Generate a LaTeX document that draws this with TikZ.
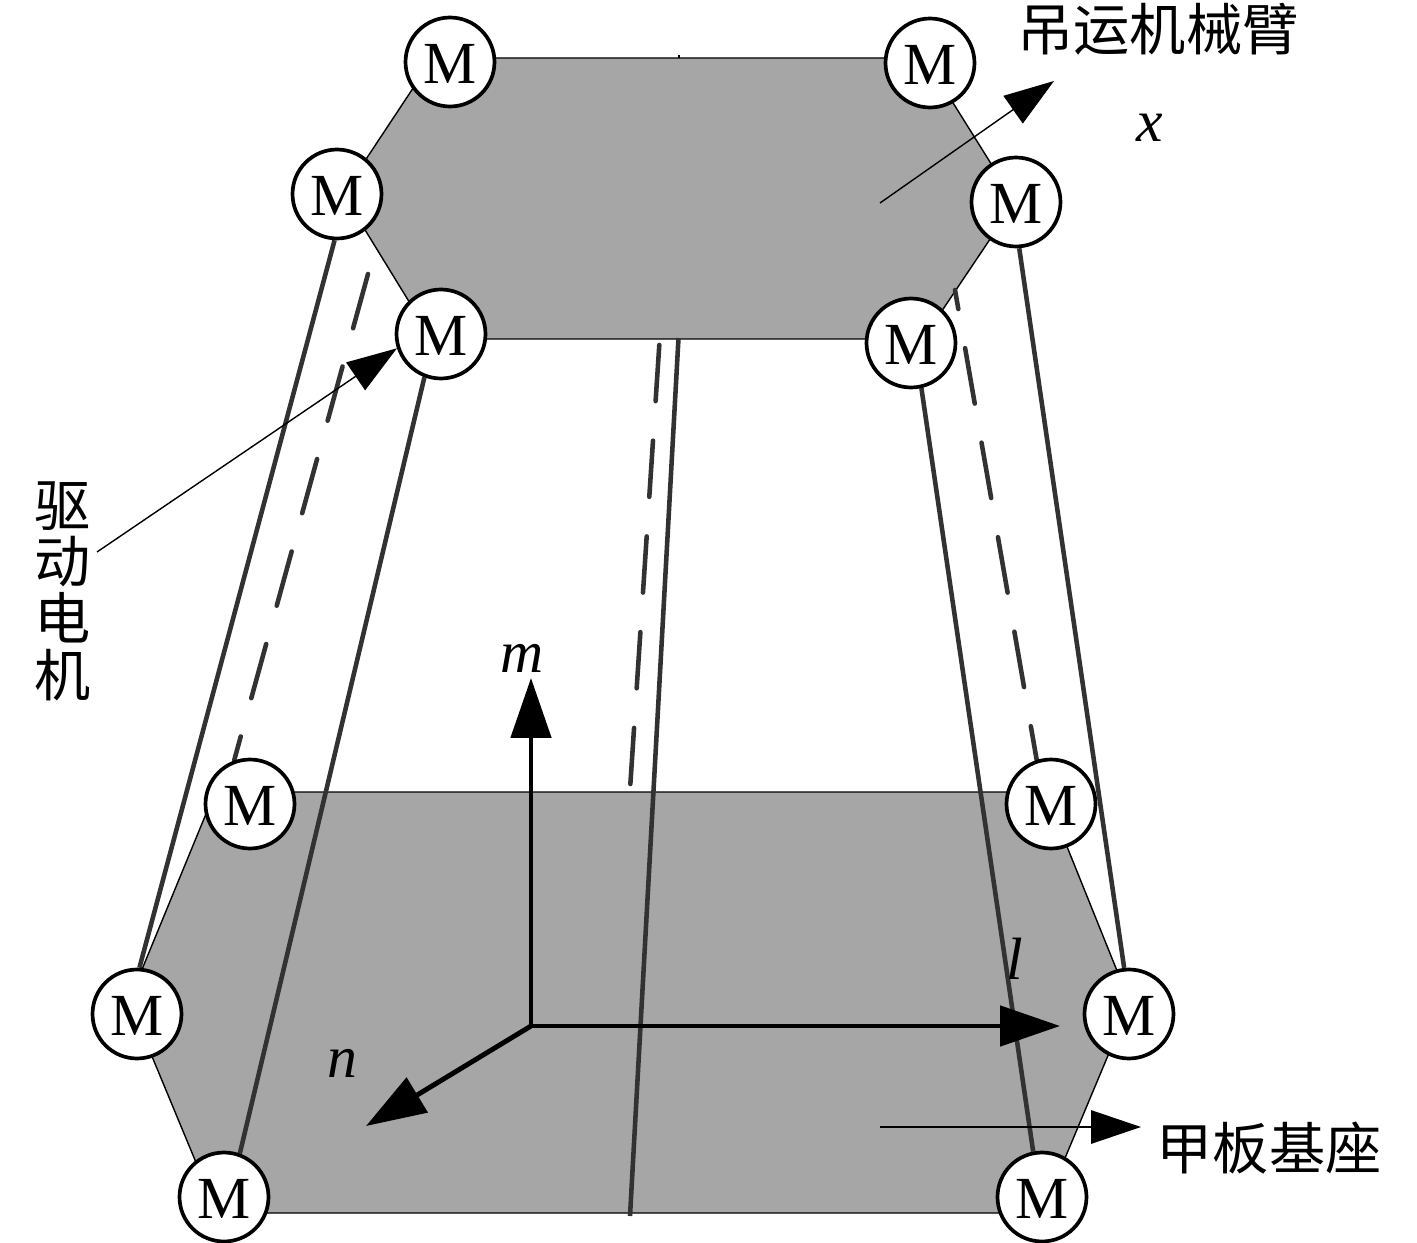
\documentclass[tikz,border=0pt]{standalone}
\usepackage{fontspec}
\setmainfont{Liberation Serif}
\newfontfamily\cjk{Noto Sans CJK SC}
\usetikzlibrary{arrows.meta}
\pgfdeclarelayer{under}
\pgfsetlayers{under,main}
\definecolor{plate}{RGB}{166,166,166}
\definecolor{leg}{RGB}{50,50,50}
\newcommand\motorM{\raisebox{-12.4pt}[0pt][0pt]{M}}
\tikzset{
 x=0.02cm,y=-0.02cm,
 motor/.style={circle,draw=black,line width=2.1pt,fill=white,minimum size=1.78cm,inner sep=0pt,font=\fontsize{34}{34}\selectfont},
 plateedge/.style={fill=plate,draw=black,line width=0.8pt},
 legline/.style={draw=leg,line width=2.6pt},
 legdash/.style={draw=leg,line width=2.6pt,line cap=round,dash pattern=on 32pt off 22.6pt},
 leader/.style={draw=black,line width=0.8pt,-{Triangle[length=1cm,width=0.67cm]}},
 axis/.style={draw=black,line width=2.8pt,-{Triangle[length=1.2cm,width=0.8cm]}},
 cn/.style={font=\fontsize{32}{32.3}\selectfont\cjk,inner sep=0pt},
 ital/.style={font=\fontsize{34}{34}\selectfont\itshape,inner sep=0pt},
}
\begin{document}
\begin{tikzpicture}
\useasboundingbox (0,0) rectangle (1417,1243);
% motors
\node[motor] (m1) at (450,62) {\motorM};
\node[motor] (m2) at (930,63) {\motorM};
\node[motor] (m3) at (1016,202) {\motorM};
\node[motor] (m4) at (911,343) {\motorM};
\node[motor] (m5) at (441,334) {\motorM};
\node[motor] (m6) at (337,194) {\motorM};
\node[motor] (m7) at (250,804) {\motorM};
\node[motor] (m8) at (1051,804) {\motorM};
\node[motor] (m9) at (1129,1014) {\motorM};
\node[motor] (m10) at (1042,1197) {\motorM};
\node[motor] (m11) at (224,1197) {\motorM};
\node[motor] (m12) at (137,1014) {\motorM};
% plate corners and leg ends
\coordinate (t1) at (433,58); \coordinate (t2) at (925,58); \coordinate (t3) at (1015,202);
\coordinate (t4) at (923,339); \coordinate (t5) at (432,339); \coordinate (t6) at (343,194);
\coordinate (b1) at (215,792); \coordinate (b2) at (1045,792); \coordinate (b3) at (1130,1003);
\coordinate (b4) at (1042,1213); \coordinate (b5) at (217,1213); \coordinate (b6) at (129,1001);
\coordinate (tc) at (678.5,338); \coordinate (bc) at (630,1216);
\coordinate (tcd) at (659.3,345); \coordinate (bcd) at (630.3,785);
\coordinate (ld1) at (368,274); \coordinate (rd1) at (955,290);
\coordinate (tick) at (679,55); \coordinate (tickb) at (679,58);
\begin{pgfonlayer}{under}
\path[plateedge] (t1)--(t2)--(t3)--(t4)--(t5)--(t6)--cycle;
\path[plateedge] (b1)--(b2)--(b3)--(b4)--(b5)--(b6)--cycle;
\draw[draw=black,line width=0.6pt] (tick)--(tickb);
\draw[legline] (m6.-93) -- (m12.87);
\draw[legline] (m5.-111) -- (m11.70);
\draw[legline] (m3.-86) -- (m9.96);
\draw[legline] (m4.-77) -- (m10.101);
\draw[legline] (tc) -- (bc);
\draw[legdash] (ld1) -- (m7.110);
\draw[legdash,dash phase=21pt] (rd1) -- (m8.108);
\draw[legdash] (tcd) -- (bcd);
\end{pgfonlayer}
% axes
\coordinate (o) at (531,1026);
\coordinate (mt) at (531,678); \coordinate (lt) at (1060,1026); \coordinate (nt) at (366,1126);
\draw[axis] (o)--(mt);
\draw[axis] (o)--(lt);
\draw[axis] (o)--(nt);
\node[ital] (lm) at (522,658) {m};
\node[ital] (ll) at (1015,959) {l};
\node[ital] (ln) at (342,1063) {n};
\node[ital] (lx) at (1150,128) {x};
% labels
\node[cn] (arm) at (1158,29) {吊运机械臂};
\node[cn] (base) at (1269,1148) {甲板基座};
\node[cn,align=center] (drv) at (63,591) {驱\\动\\电\\机};
\coordinate (a0) at (880,203); \coordinate (a1) at (1054,81);
\coordinate (c0) at (880,1127); \coordinate (c1) at (1141,1127);
\coordinate (d0) at (97,552);
\draw[leader] (a0)--(a1);
\draw[leader] (c0)--(c1);
\draw[leader] (d0)--(m5.198);
\end{tikzpicture}
\end{document}
